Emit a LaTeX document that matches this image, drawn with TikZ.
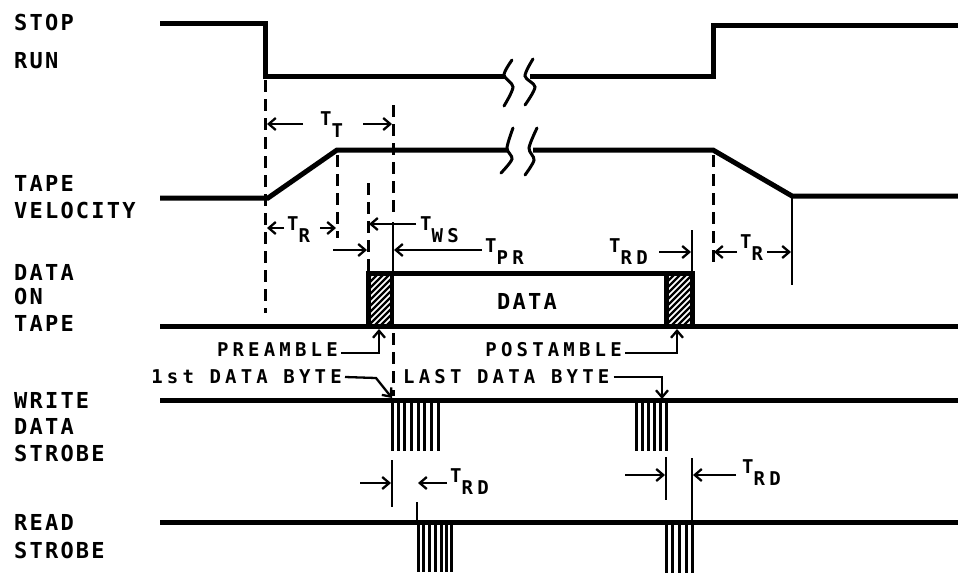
\documentclass[tikz,border=0pt]{standalone}
\usepackage{fontspec}
\newfontfamily\labfont[LetterSpace=10]{DejaVu Sans Mono}
\newfontfamily\smfont[LetterSpace=22]{DejaVu Sans Mono}
\usetikzlibrary{arrows.meta}
\newcommand\Tsub[1]{T\raisebox{-12pt}{#1}}
\tikzset{
  sig/.style={line width=5pt, line cap=butt, line join=miter},
  brk/.style={line width=3pt, line cap=round},
  dsh/.style={line width=3pt, dash pattern=on 12pt off 7pt},
  mrk/.style={line width=2.8pt},
  pul/.style={line width=3pt},
  arr/.style={line width=2.3pt, -{Straight Barb[length=7pt,width=12pt,line width=2.3pt]}},
  biglab/.style={font=\labfont\bfseries\fontsize{22}{26}\selectfont, inner sep=0pt, anchor=west},
  txt/.style={font=\smfont\bfseries\fontsize{19}{23}\selectfont, inner sep=0pt},
  tlab/.style={font=\smfont\bfseries\fontsize{19}{23}\selectfont, inner sep=0pt, anchor=base west},
}
\begin{document}
\begin{tikzpicture}[x=1pt,y=-1pt]
\path[use as bounding box, fill=white] (0,0) rectangle (958,573);

% ---------- left labels ----------
\node[biglab] (lstop) at (14,22) {STOP};
\node[biglab] (lrun) at (14,61) {RUN};
\node[biglab] (ltape) at (14,183) {TAPE};
\node[biglab] (lvel) at (14,210) {VELOCITY};
\node[biglab] (ldata) at (14,272) {DATA};
\node[biglab] (lon) at (14,296) {ON};
\node[biglab] (ltape2) at (14,323) {TAPE};
\node[biglab] (lwrite) at (14,400) {WRITE};
\node[biglab] (ldata2) at (14,426) {DATA};
\node[biglab] (lstrobe) at (14,453) {STROBE};
\node[biglab] (lread) at (14,522) {READ};
\node[biglab] (lstrobe2) at (14,550) {STROBE};

% ---------- STOP/RUN ----------
\draw[sig] (160,23) -- (265,23) -- (265,76) -- (505,76);
\draw[sig] (530,76) -- (713,76) -- (713,25) -- (958,25);
\draw[brk] plot[smooth] coordinates {(512,60) (504,75) (513,87) (504,106)};
\draw[brk] plot[smooth] coordinates {(533,59) (525,76) (535,87) (525,105)};

% ---------- TAPE VELOCITY ----------
\draw[sig] (160,198) -- (268,198) -- (337,150) -- (507,150);
\draw[sig] (533,150) -- (713,150) -- (792,196) -- (958,196);
\draw[brk] plot[smooth] coordinates {(513,128) (507,148) (512,159) (501,173)};
\draw[brk] plot[smooth] coordinates {(537,128) (529,148) (534,160) (525,175)};

% ---------- DATA ON TAPE ----------
\draw[sig] (160,326) -- (958,326);
\begin{scope}
  \clip (368,273) rectangle (393,326);
  \foreach \i in {-60,-54,...,30} \draw[line width=2.2pt] (368+\i,326) -- ++(60,-60);
\end{scope}
\begin{scope}
  \clip (665,273) rectangle (692,326);
  \foreach \i in {-60,-54,...,30} \draw[line width=2.2pt] (665+\i,326) -- ++(60,-60);
\end{scope}
\draw[sig] (368,326) -- (368,273) -- (692,273) -- (692,326);
\draw[line width=3.2pt] (392,273) -- (392,326);
\draw[sig] (666,273) -- (666,326);
\node[biglab] (ldatab) at (497,301) {DATA};

% ---------- WRITE DATA STROBE ----------
\draw[sig] (160,400) -- (958,400);
\foreach \x in {392,398,404,411,418,424,431,438} \draw[pul] (\x,400) -- (\x,451);
\foreach \x in {636,642,648,654,660,666} \draw[pul] (\x,400) -- (\x,451);

% ---------- READ STROBE ----------
\draw[sig] (160,522) -- (958,522);
\foreach \x in {418,423,429,435,441,446,451} \draw[pul] (\x,522) -- (\x,572);
\foreach \x in {666,672,679,686,692} \draw[pul] (\x,522) -- (\x,573);

% ---------- dashed guide lines ----------
\draw[dsh] (265,80) -- (265,313);
\draw[dsh] (337,155) -- (337,238);
\draw[dsh] (368,183) -- (368,271);
\draw[dsh] (393,105) -- (393,215);
\draw[dsh] (393,333) -- (393,396);
\draw[dsh] (713,155) -- (713,268);

% ---------- solid marker lines ----------
\draw[mrk] (393,222) -- (393,273);
\draw[mrk] (692,230) -- (692,273);
\draw[mrk] (792,196) -- (792,285);
\draw[mrk] (392,460) -- (392,507);
\draw[mrk] (417,502) -- (417,522);
\draw[mrk] (666,457) -- (666,500);
\draw[mrk] (692,458) -- (692,522);

% ---------- timing labels ----------
\node[tlab] (tt) at (320,125) {\Tsub{T}};
\node[tlab] (tr1) at (287,230) {\Tsub{R}};
\node[tlab] (tws) at (420,230) {\Tsub{WS}};
\node[tlab] (tpr) at (485,252) {\Tsub{PR}};
\node[tlab] (trd1) at (609,252) {\Tsub{RD}};
\node[tlab] (tr2) at (740,248) {\Tsub{R}};
\node[tlab] (trd2) at (450,482) {\Tsub{RD}};
\node[tlab] (trd3) at (742,473) {\Tsub{RD}};

% ---------- timing arrows ----------
\coordinate (ttA) at (303,124); \coordinate (ttB) at (267,124);
\coordinate (ttC) at (363,124); \coordinate (ttD) at (392,124);
\draw[arr] (ttA) -- (ttB);
\draw[arr] (ttC) -- (ttD);
\coordinate (trA) at (284,228); \coordinate (trB) at (267,228);
\coordinate (trC) at (320,228); \coordinate (trD) at (336,228);
\draw[arr] (trA) -- (trB);
\draw[arr] (trC) -- (trD);
\coordinate (twsA) at (416,224); \coordinate (twsB) at (369,224);
\draw[arr] (twsA) -- (twsB);
\coordinate (tprA) at (333,250); \coordinate (tprB) at (367,250);
\coordinate (tprC) at (482,250); \coordinate (tprD) at (394,250);
\draw[arr] (tprA) -- (tprB);
\draw[arr] (tprC) -- (tprD);
\coordinate (trdA) at (659,252); \coordinate (trdB) at (691,252);
\draw[arr] (trdA) -- (trdB);
\coordinate (tr2A) at (737,252); \coordinate (tr2B) at (714,252);
\coordinate (tr2C) at (767,252); \coordinate (tr2D) at (791,252);
\draw[arr] (tr2A) -- (tr2B);
\draw[arr] (tr2C) -- (tr2D);
\coordinate (rdA) at (360,483); \coordinate (rdB) at (391,483);
\coordinate (rdC) at (447,483); \coordinate (rdD) at (418,483);
\draw[arr] (rdA) -- (rdB);
\draw[arr] (rdC) -- (rdD);
\coordinate (rd2A) at (625,475); \coordinate (rd2B) at (665,475);
\coordinate (rd2C) at (736,475); \coordinate (rd2D) at (693,475);
\draw[arr] (rd2A) -- (rd2B);
\draw[arr] (rd2C) -- (rd2D);

% ---------- event labels ----------
\node[txt, anchor=east] (pre) at (338,350) {PREAMBLE};
\node[txt, anchor=east] (fst) at (342,377) {1st DATA BYTE};
\node[txt, anchor=west] (lst) at (403,377) {LAST DATA BYTE};
\node[txt, anchor=east] (post) at (622,350) {POSTAMBLE};
\coordinate (preTip) at (379,329);
\coordinate (fstK) at (376,378); \coordinate (fstTip) at (392,398);
\coordinate (lstTip) at (662,399);
\coordinate (postTip) at (677,329);
\draw[arr] ([xshift=3pt,yshift=-3pt]pre.east) -| (preTip);
\draw[arr] ([xshift=3pt]fst.east) -- (fstK) -- (fstTip);
\draw[arr] ([xshift=4pt]lst.east) -| (lstTip);
\draw[arr] ([xshift=3pt,yshift=-3pt]post.east) -| (postTip);
\end{tikzpicture}
\end{document}
